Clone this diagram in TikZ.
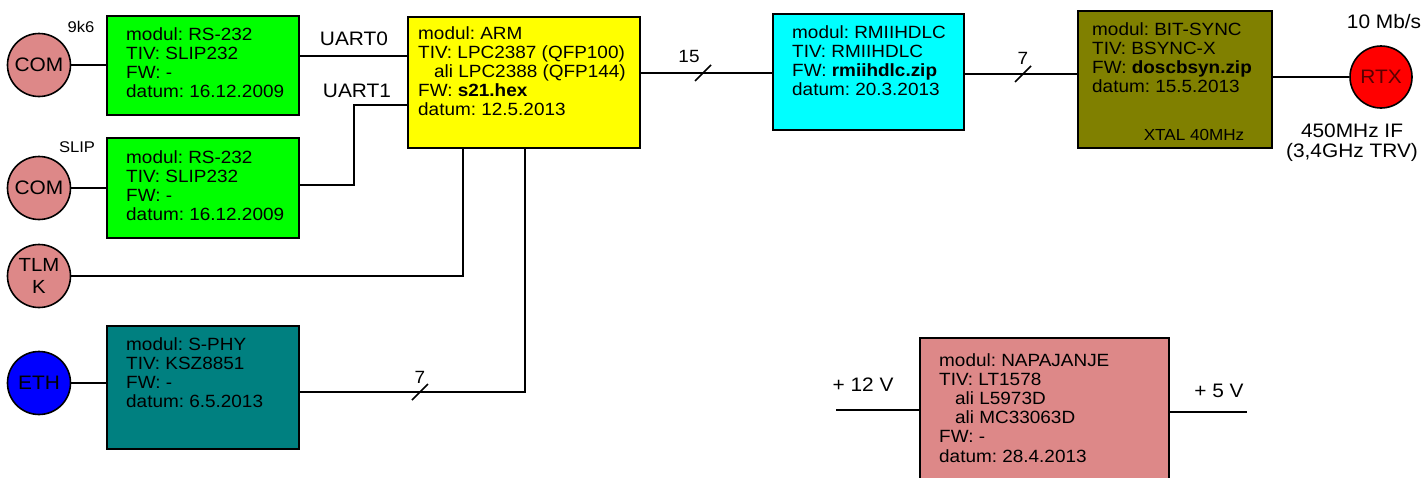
\documentclass[tikz,border=0pt]{standalone}
\usepackage{fontspec}
\setmainfont{Liberation Sans}[FakeStretch=1.07]
\usepackage{tikz}
\usetikzlibrary{calc}
\frenchspacing
\definecolor{modpink}{HTML}{DD8888}
\definecolor{modgreen}{HTML}{00FF00}
\definecolor{modyellow}{HTML}{FFFF00}
\definecolor{modcyan}{HTML}{00FFFF}
\definecolor{modolive}{HTML}{808000}
\definecolor{modteal}{HTML}{008080}
\definecolor{rtxtext}{HTML}{5A0000}

\tikzset{
  modbox/.style={draw, line width=1.6pt, rectangle, anchor=north west, inner sep=0pt},
  modtxt/.style={anchor=north west, inner sep=0pt, align=left, font=\fontsize{17.7}{19.2}\selectfont},
  port/.style={draw, circle, line width=1.6pt, minimum size=63pt, inner sep=0pt},
  wire/.style={line width=1.6pt},
  smalltxt/.style={font=\fontsize{15.5}{17}\selectfont}
}

\begin{document}
\begin{tikzpicture}[x=1pt, y=-1pt, every node/.style={font=\fontsize{19.5}{20}\selectfont}]
\useasboundingbox (0,0) rectangle (1423,477);
\clip (0,0) rectangle (1423,477);
% vmesniki
\node[port, fill=modpink] (com0) at (39,65) {COM};
\node[port, fill=modpink] (com1) at (39,188) {COM};
\node[port, fill=modpink, align=center, font=\fontsize{19}{22}\selectfont] (tlmk) at (39,276) {TLM\\K};
\node[port, fill=blue] (eth) at (39,383) {ETH};
\node[port, fill=red, text=rtxtext, minimum size=62pt] (rtx) at (1381,77) {RTX};
\node[smalltxt] (baud) at (81,27) {9k6};
\node[smalltxt] (slip) at (77,147) {SLIP};

% moduli
\node[modbox, fill=modgreen, minimum width=192pt, minimum height=99pt] (rs0) at (106,15) {};
\node[modtxt] (rs0txt) at (126,27) {modul: RS-232\\TIV: SLIP232\\FW: -\\datum: 16.12.2009};
\node[modbox, fill=modgreen, minimum width=192pt, minimum height=100pt] (rs1) at (106,137) {};
\node[modtxt] (rs1txt) at (126,150) {modul: RS-232\\TIV: SLIP232\\FW: -\\datum: 16.12.2009};
\node[modbox, fill=modyellow, minimum width=232pt, minimum height=131pt] (arm) at (407,16) {};
\node[modtxt] (armtxt) at (418,26) {modul: ARM\\TIV: LPC2387 (QFP100)\\\hspace*{16pt}ali LPC2388 (QFP144)\\FW: \textbf{s21.hex}\\datum: 12.5.2013};
\node[modbox, fill=modcyan, minimum width=191pt, minimum height=116pt] (hdlc) at (772,13) {};
\node[modtxt] (hdlctxt) at (792,25) {modul: RMIIHDLC\\TIV: RMIIHDLC\\FW: \textbf{rmiihdlc.zip}\\datum: 20.3.2013};
\node[modbox, fill=modolive, minimum width=194pt, minimum height=137pt] (bsync) at (1077,10) {};
\node[modtxt] (bsynctxt) at (1092,22) {modul: BIT-SYNC\\TIV: BSYNC-X\\FW: \textbf{doscbsyn.zip}\\datum: 15.5.2013};
\node[font=\fontsize{16}{18}\selectfont] (xtal) at (1194,135) {XTAL 40MHz};
\node[modbox, fill=modteal, minimum width=192pt, minimum height=123pt] (sphy) at (106,325) {};
\node[modtxt] (sphytxt) at (126,337) {modul: S-PHY\\TIV: KSZ8851\\FW: -\\datum: 6.5.2013};
\node[modbox, fill=modpink, minimum width=249pt, minimum height=170pt] (napa) at (919,337) {};
\node[modtxt] (napatxt) at (939,353) {modul: NAPAJANJE\\TIV: LT1578\\\hspace*{16pt}ali L5973D\\\hspace*{16pt}ali MC33063D\\FW: -\\datum: 28.4.2013};

% povezave
\draw[wire] (com0) -- (rs0.west |- com0);
\draw[wire] (com1) -- (rs1.west |- com1);
\draw[wire] (eth) -- (sphy.west |- eth);
\draw[wire] (rs0.east |- 0,56) -- (arm.west |- 0,56);
\node (uart0) at (354,39) {UART0};
\draw[wire] (rs1.east |- 0,185) -- (354,185) -- (354,105) -- (arm.west |- 0,105);
\node (uart1) at (357,91) {UART1};
\draw[wire] (tlmk) -- (tlmk -| 463,0) -- (arm.south -| 463,0);
\draw[wire] (sphy.east |- 0,392) -- (525,392) -- (arm.south -| 525,0);
\draw[wire] (420,392) ++(-8,8) -- ++(16,-16);
\node[modtxt, anchor=center] (bus7a) at (420,377) {7};
\draw[wire] (arm.east |- 0,73) -- (hdlc.west |- 0,73);
\draw[wire] (703,73) ++(-8,8) -- ++(16,-16);
\node[modtxt, anchor=center] (bus15) at (689,56) {15};
\draw[wire] (hdlc.east |- 0,74) -- (bsync.west |- 0,74);
\draw[wire] (1023,74) ++(-8,8) -- ++(16,-16);
\node[modtxt, anchor=center] (bus7b) at (1023,58) {7};
\draw[wire] (bsync.east |- rtx) -- (rtx);
\node (rate) at (1384,22) {10 Mb/s};
\node[align=center] (ifreq) at (1352,143) {450MHz IF\\(3,4GHz TRV)};

% napajanje
\coordinate (vin) at (836,410);
\coordinate (vout) at (1247,412);
\draw[wire] (vin) -- (vin -| napa.west);
\draw[wire] (napa.east |- vout) -- (vout);
\node (v12) at (863,385) {+ 12 V};
\node (v5) at (1219,391) {+ 5 V};
\end{tikzpicture}
\end{document}
